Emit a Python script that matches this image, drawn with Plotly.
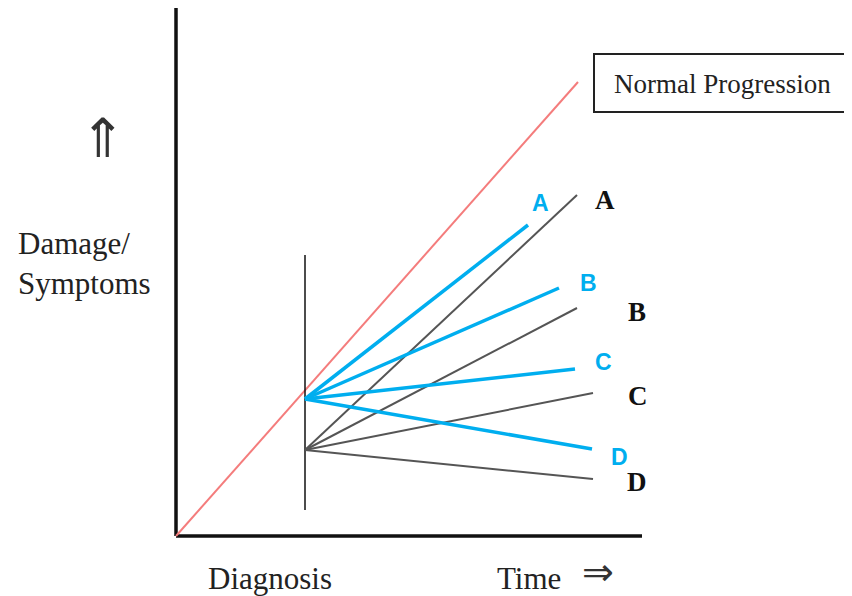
import plotly.graph_objects as go

# Conceptual units: time (x) and damage/symptoms (y); origin at axes corner
normal_x = [0.0, 4.02]
normal_y = [0.0, 4.54]

diagnosis_time = 1.29
diagnosis_span = [0.26, 2.81]

labels = ["A", "B", "C", "D"]

# outcomes when diagnosed later (gray) - start damage and end points
gray_start = 0.86
gray_end_x = [4.01, 4.01, 4.17, 4.17]
gray_end_y = [3.41, 2.28, 1.43, 0.57]

# outcomes when diagnosed at this level (blue)
blue_start = 1.37
blue_end_x = [3.52, 3.83, 3.99, 4.16]
blue_end_y = [3.11, 2.48, 1.67, 0.87]

gray_label_x = [4.29, 4.61, 4.62, 4.61]
gray_label_y = [3.36, 2.24, 1.40, 0.54]
blue_label_x = [3.64, 4.12, 4.27, 4.43]
blue_label_y = [3.33, 2.53, 1.74, 0.79]

axis_x_end = 4.66
axis_y_end = 5.30

BLUE = "#00AEEF"
SERIF = "Liberation Serif"
SANS = "Liberation Sans"

fig = go.Figure()

# axes
fig.add_trace(go.Scatter(x=[0, 0], y=[axis_y_end, 0], mode="lines",
                         line=dict(color="#111111", width=3.5), hoverinfo="skip"))
fig.add_trace(go.Scatter(x=[0, axis_x_end], y=[0, 0], mode="lines",
                         line=dict(color="#111111", width=3.5), hoverinfo="skip"))

# normal progression
fig.add_trace(go.Scatter(x=normal_x, y=normal_y, mode="lines",
                         line=dict(color="#F47C7C", width=2), hoverinfo="skip"))

# diagnosis marker line
fig.add_trace(go.Scatter(x=[diagnosis_time, diagnosis_time], y=diagnosis_span, mode="lines",
                         line=dict(color="#111111", width=1.5), hoverinfo="skip"))

# gray lines
for ex, ey in zip(gray_end_x, gray_end_y):
    fig.add_trace(go.Scatter(x=[diagnosis_time, ex], y=[gray_start, ey], mode="lines",
                             line=dict(color="#555555", width=2), hoverinfo="skip"))

# blue lines
for ex, ey in zip(blue_end_x, blue_end_y):
    fig.add_trace(go.Scatter(x=[diagnosis_time, ex], y=[blue_start, ey], mode="lines",
                             line=dict(color=BLUE, width=3.5), hoverinfo="skip"))

ann = []
for lab, lx, ly in zip(labels, gray_label_x, gray_label_y):
    ann.append(dict(x=lx, y=ly, text="<b>%s</b>" % lab, showarrow=False,
                    font=dict(family=SERIF, size=27, color="#111111")))
for lab, lx, ly in zip(labels, blue_label_x, blue_label_y):
    ann.append(dict(x=lx, y=ly, text="<b>%s</b>" % lab, showarrow=False,
                    font=dict(family=SANS, size=23, color=BLUE)))

ann += [
    dict(x=-0.74, y=3.98, text="⇑", showarrow=False,
         font=dict(family="DejaVu Sans", size=54, color="#333333")),
    dict(x=-1.60, y=2.73, text="Damage/<br>Symptoms", showarrow=False, xanchor="left",
         align="left", font=dict(family=SERIF, size=31, color="#222222")),
    dict(x=0.94, y=-0.42, text="Diagnosis", showarrow=False,
         font=dict(family=SERIF, size=31, color="#222222")),
    dict(x=3.53, y=-0.42, text="Time", showarrow=False,
         font=dict(family=SERIF, size=31, color="#222222")),
    dict(x=4.22, y=-0.36, text="⇒", showarrow=False,
         font=dict(family="DejaVu Sans", size=38, color="#333333")),
    dict(x=5.46, y=4.52, text="Normal Progression", showarrow=False,
         font=dict(family=SERIF, size=27, color="#222222")),
]

fig.add_shape(type="rect", x0=4.18, x1=6.74, y0=4.24, y1=4.82,
              line=dict(color="#222222", width=2), fillcolor="rgba(0,0,0,0)")

# page has an 8px body margin: shrink the figure and shift ranges to keep scale 100 px/unit
fig.update_layout(
    width=844, height=588,
    margin=dict(l=0, r=0, t=0, b=0),
    paper_bgcolor="white", plot_bgcolor="white",
    showlegend=False,
    annotations=ann,
    xaxis=dict(range=[-1.68, 6.76], visible=False, fixedrange=True),
    yaxis=dict(range=[-0.60, 5.28], visible=False, fixedrange=True),
)

fig.write_html("out.html")
